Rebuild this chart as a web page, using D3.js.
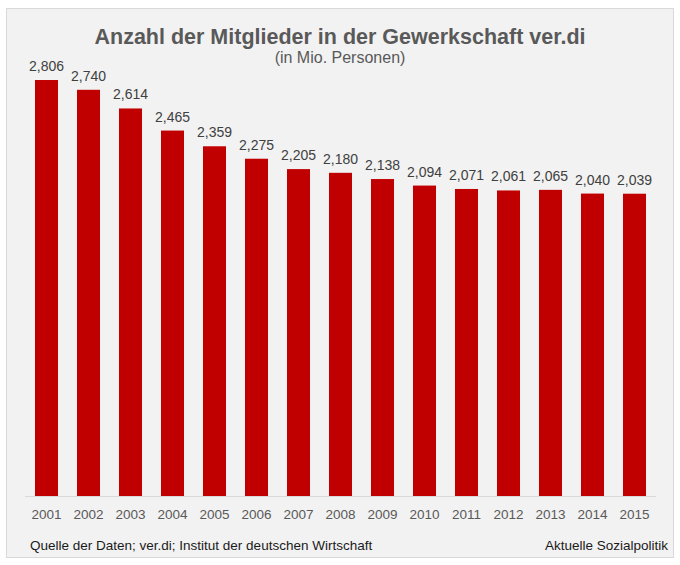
<!DOCTYPE html>
<html><head><meta charset="utf-8">
<script src="https://cdn.jsdelivr.net/npm/d3@7"></script>
<style>body{margin:0;background:#fff;}svg{display:block;font-family:"Liberation Sans",Arial,sans-serif;}</style>
</head><body>
<svg id="c" width="680" height="565"></svg>
<script>
const years = ["2001","2002","2003","2004","2005","2006","2007","2008","2009","2010","2011","2012","2013","2014","2015"];
const members = [2.806,2.740,2.614,2.465,2.359,2.275,2.205,2.180,2.138,2.094,2.071,2.061,2.065,2.040,2.039];
const title = "Anzahl der Mitglieder in der Gewerkschaft ver.di";
const subtitle = "(in Mio. Personen)";
const sourceText = "Quelle der Daten; ver.di; Institut der deutschen Wirtschaft";
const brandText = "Aktuelle Sozialpolitik";

const svg = d3.select("#c");
svg.append("rect").attr("x",6.5).attr("y",8.5).attr("width",667).attr("height",549)
  .attr("fill","#f2f2f2").attr("stroke","#d9d9d9");

const x = d3.scaleBand().domain(years).range([25.5,655.5]).paddingInner(0.452).paddingOuter(0.226);
const y = d3.scaleLinear().domain([0,3]).range([496,496-3*148.25]);

svg.append("text").attr("x",340).attr("y",44).attr("text-anchor","middle")
  .attr("font-size",21.5).attr("font-weight","bold").attr("fill","#595959").text(title);
svg.append("text").attr("x",340).attr("y",63).attr("text-anchor","middle")
  .attr("font-size",16).attr("fill","#595959").text(subtitle);

svg.append("line").attr("x1",25).attr("x2",656).attr("y1",496.5).attr("y2",496.5)
  .attr("stroke","#d9d9d9").attr("stroke-width",1);

svg.selectAll("rect.bar").data(years).enter().append("rect").attr("class","bar")
  .attr("x",d=>x(d)).attr("width",x.bandwidth())
  .attr("y",(d,i)=>y(members[i])).attr("height",(d,i)=>y(0)-y(members[i]))
  .attr("fill","#c00000");

const fmt = v => d3.format(".3f")(v).replace(".",",");
svg.selectAll("text.val").data(years).enter().append("text").attr("class","val")
  .attr("x",d=>x(d)+x.bandwidth()/2).attr("y",(d,i)=>y(members[i])-9)
  .attr("text-anchor","middle").attr("font-size",14).attr("fill","#404040")
  .text((d,i)=>fmt(members[i]));

const xAxis = svg.append("g").attr("transform","translate(0,496)")
  .call(d3.axisBottom(x).tickSize(0).tickPadding(13));
xAxis.select(".domain").remove();
xAxis.selectAll("text").attr("font-size",13.5).attr("fill","#595959")
  .attr("font-family","Liberation Sans, Arial, sans-serif");

svg.append("text").attr("x",30).attr("y",550).attr("font-size",13.5).attr("fill","#1a1a1a").text(sourceText);
svg.append("text").attr("x",668).attr("y",550).attr("text-anchor","end").attr("font-size",13.5).attr("fill","#1a1a1a").text(brandText);
</script>
</body></html>
